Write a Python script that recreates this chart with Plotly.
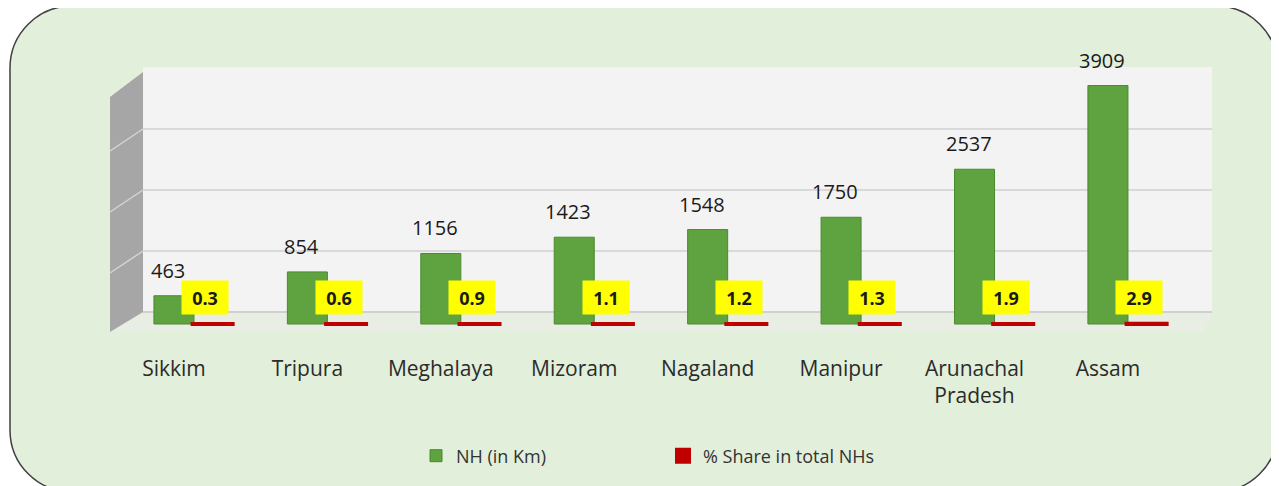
import plotly.graph_objects as go

# ---- data ----
states = ["Sikkim", "Tripura", "Meghalaya", "Mizoram", "Nagaland", "Manipur",
          "Arunachal<br>Pradesh", "Assam"]
nh_km = [463, 854, 1156, 1423, 1548, 1750, 2537, 3909]
share_pct = [0.3, 0.6, 0.9, 1.1, 1.2, 1.3, 1.9, 2.9]
nh_name = "NH (in Km)"
share_name = "% Share in total NHs"

# ---- layout geometry (page pixels) ----
W, H = 1279, 486
OFF = 8                                   # default body margin of the page
PLOT_LEFT, PLOT_RIGHT, PLOT_TOP, PLOT_BOTTOM = 143, 1212, 67, 330
PW, PH = PLOT_RIGHT - PLOT_LEFT, PLOT_BOTTOM - PLOT_TOP
SCALE = 0.061          # px per km
WALL_BASE = 312        # back-wall zero line (px)
BAR_BASE = 324         # bar zero line (px)


def px(x):
    return (x - PLOT_LEFT) / PW


def py(y):
    return (PLOT_BOTTOM - y) / PH


idx = list(range(len(states)))
font_family = "'Open Sans', Lato, sans-serif"

fig = go.Figure()
# empty trace so that the back-wall axis (y) gets drawn with its gridlines
fig.add_trace(go.Scatter(x=[], y=[], yaxis="y", showlegend=False, hoverinfo="skip"))
fig.add_trace(go.Bar(
    x=idx, y=nh_km, yaxis="y2", name=nh_name,
    width=0.30, offset=-0.15,
    marker=dict(color="#5ea33f", line=dict(color="#4a8a2f", width=1)),
))
fig.add_trace(go.Bar(
    x=idx, y=share_pct, yaxis="y2", name=share_name,
    width=0.30, offset=0.14,
    marker=dict(color="#c00000", line=dict(color="#c00000", width=4)),
))

annotations = []
for i, v in zip(idx, nh_km):
    annotations.append(dict(
        x=i, y=v, xref="x", yref="y2", text=str(v), showarrow=False,
        xanchor="center", yanchor="bottom", xshift=-6, yshift=10,
        font=dict(family=font_family, size=20, color="#1a1a1a"),
    ))
for i, v in zip(idx, share_pct):
    annotations.append(dict(
        x=i + 0.235, y=v, xref="x", yref="y2", text="<b>%.1f</b>" % v,
        showarrow=False, xanchor="center", yanchor="middle", yshift=26,
        bgcolor="#ffff00", width=46, height=33, borderpad=0,
        font=dict(family=font_family, size=18, color="#1a1a1a"),
    ))

# rounded outer frame
x0, y0, x1, y1, r = 10, 6, 1278, 492, 62
k = 0.5523 * r


def P(x, y):
    return "%.5f,%.5f" % (px(x), py(y))


frame = ("M" + P(x0 + r, y0) + " L" + P(x1 - r, y0) +
         " C" + P(x1 - r + k, y0) + " " + P(x1, y0 + r - k) + " " + P(x1, y0 + r) +
         " L" + P(x1, y1 - r) +
         " C" + P(x1, y1 - r + k) + " " + P(x1 - r + k, y1) + " " + P(x1 - r, y1) +
         " L" + P(x0 + r, y1) +
         " C" + P(x0 + r - k, y1) + " " + P(x0, y1 - r + k) + " " + P(x0, y1 - r) +
         " L" + P(x0, y0 + r) +
         " C" + P(x0, y0 + r - k) + " " + P(x0 + r - k, y0) + " " + P(x0 + r, y0) + " Z")

wall = ("M" + P(110, 97) + " L" + P(143, 72) + " L" + P(143, WALL_BASE) +
        " L" + P(110, WALL_BASE + 20) + " Z")
floor = ("M" + P(143, WALL_BASE) + " L" + P(PLOT_RIGHT, WALL_BASE) +
         " L" + P(PLOT_RIGHT - 8, WALL_BASE + 20) + " L" + P(110, WALL_BASE + 20) + " Z")

shapes = [
    dict(type="path", path=frame, xref="paper", yref="paper", layer="below",
         fillcolor="#e2efda", line=dict(color="#404040", width=1.5)),
    dict(type="rect", xref="paper", yref="paper", layer="below",
         x0=px(143), x1=px(PLOT_RIGHT), y0=py(WALL_BASE), y1=py(PLOT_TOP),
         fillcolor="#f3f3f3", line=dict(width=0)),
    dict(type="path", path=floor, xref="paper", yref="paper", layer="below",
         fillcolor="#e8eee3", line=dict(width=0)),
    dict(type="path", path=wall, xref="paper", yref="paper", layer="below",
         fillcolor="#a6a6a6", line=dict(width=0)),
]
for g in (1000, 2000, 3000):
    gy = WALL_BASE - g * SCALE
    shapes.append(dict(type="line", xref="paper", yref="paper", layer="below",
                       x0=px(143), y0=py(gy), x1=px(110), y1=py(gy + 22),
                       line=dict(color="#d4d4d4", width=1.5)))

fig.update_layout(
    width=W, height=H,
    margin=dict(l=PLOT_LEFT - OFF, r=W - (PLOT_RIGHT - OFF), t=PLOT_TOP - OFF,
                b=H - (PLOT_BOTTOM - OFF), pad=0),
    paper_bgcolor="#ffffff",
    plot_bgcolor="rgba(0,0,0,0)",
    barmode="overlay",
    font=dict(family=font_family, color="#333333"),
    xaxis=dict(
        range=[-0.232, 7.78], tickvals=idx, ticktext=states,
        showgrid=False, zeroline=False, showline=False, ticks="",
        ticklabelstandoff=24,
        tickfont=dict(family=font_family, size=21, color="#2b2b2b"),
    ),
    yaxis=dict(
        range=[-(PLOT_BOTTOM - WALL_BASE) / SCALE, (WALL_BASE - PLOT_TOP) / SCALE],
        tick0=0, dtick=1000, showgrid=True, gridcolor="#d9d9d9", gridwidth=2,
        zeroline=True, zerolinecolor="#d0d0d0", zerolinewidth=2,
        showticklabels=False, ticks="", showline=False, fixedrange=True,
    ),
    yaxis2=dict(
        overlaying="y",
        range=[-(PLOT_BOTTOM - BAR_BASE) / SCALE, (BAR_BASE - PLOT_TOP) / SCALE],
        showgrid=False, zeroline=False, showticklabels=False, ticks="",
        showline=False,
    ),
    legend=dict(
        orientation="h", x=px(416), xanchor="left", y=py(456), yanchor="middle",
        font=dict(family=font_family, size=18, color="#333333"),
        bgcolor="rgba(0,0,0,0)", entrywidth=202, entrywidthmode="pixels",
        traceorder="normal",
    ),
    annotations=annotations,
    shapes=shapes,
)

fig.write_html("out.html")
